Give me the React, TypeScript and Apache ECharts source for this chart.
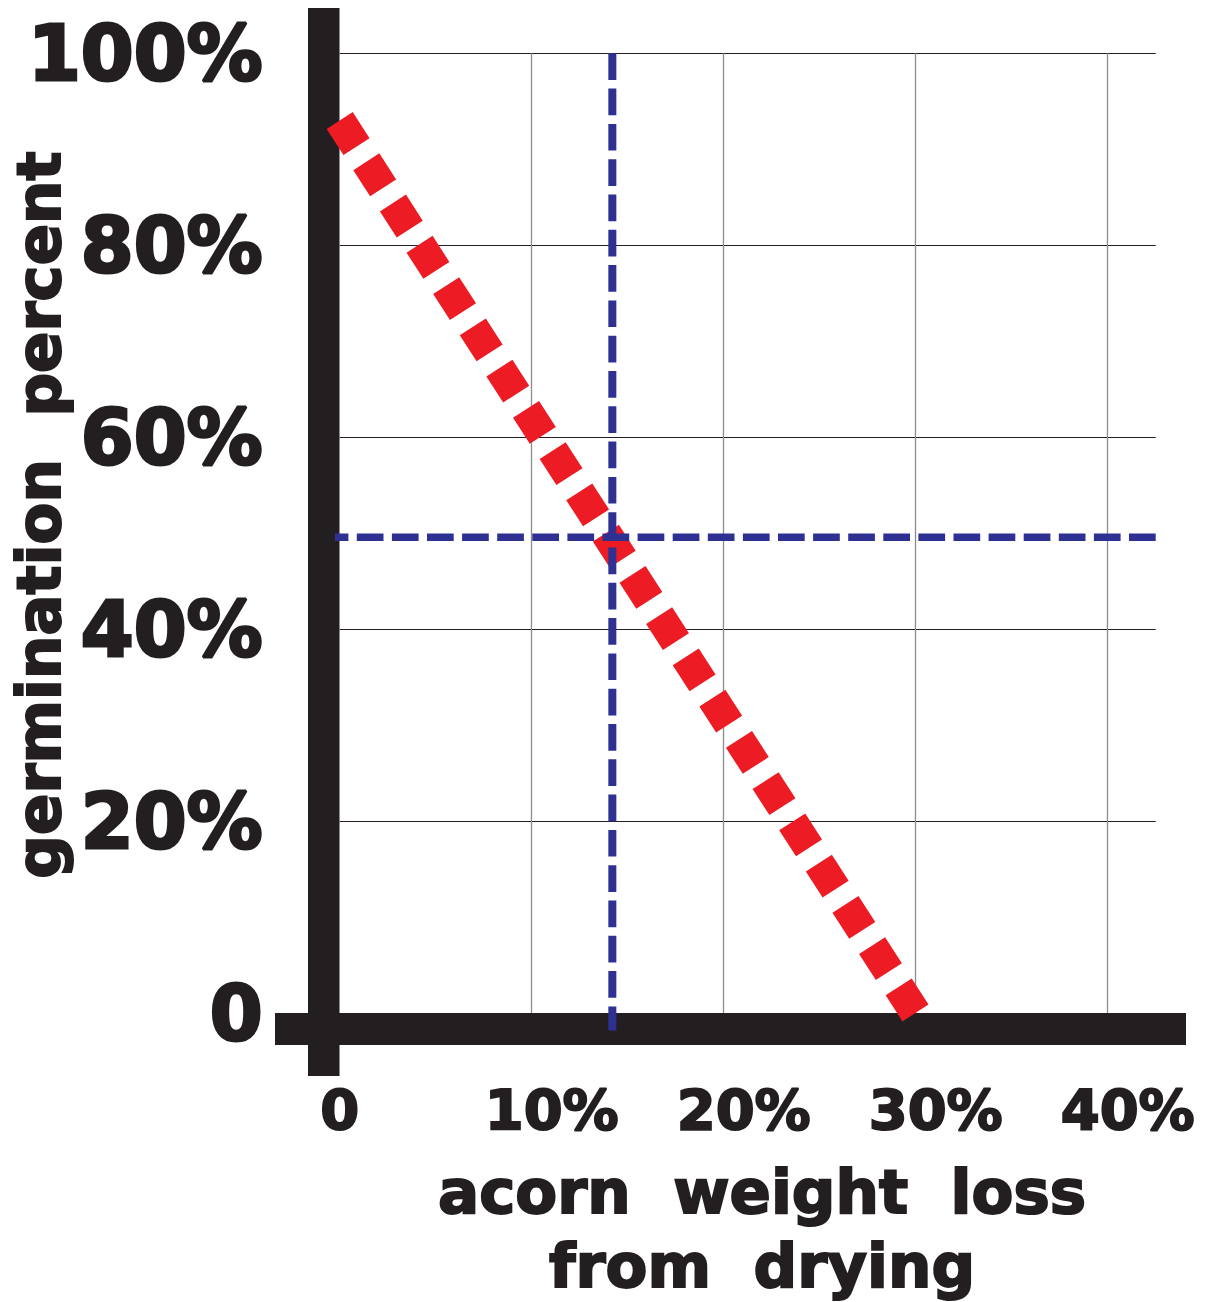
import React, { useEffect, useRef } from "react";
import * as echarts from "echarts";

// ---- data ----
const xTickValues = [0, 10, 20, 30, 40];
const yTickValues = [0, 20, 40, 60, 80, 100];
const germinationLine: [number, number][] = [
  [0, 93],
  [30, 0],
];
const weightLossGuide: [number, number][] = [
  [14.2, 100],
  [14.2, -1.8],
];
const halfGerminationGuide: [number, number][] = [
  [42.5, 49.6],
  [-0.92, 49.6],
];
const xTitleLines = ["acorn  weight  loss", "from  drying"];
const yTitle = "germination  percent";

const INK = "#231f20";
const RED = "#ed1c24";
const BLUE = "#2e3192";
const FAMILY = '"DejaVu Sans", "Liberation Sans", sans-serif';

export default function App() {
  const ref = useRef<HTMLDivElement>(null);

  useEffect(() => {
    if (!ref.current) return;
    const chart = echarts.init(ref.current, undefined, { renderer: "svg" });

    const tickFont = {
      fontFamily: FAMILY,
      fontWeight: "bold" as const,
      fontSize: 56,
      color: INK,
      textBorderColor: INK,
      textBorderWidth: 2,
    };
    const titleStyle = {
      fontFamily: FAMILY,
      fontWeight: "bold",
      fontSize: 61,
      fill: INK,
      stroke: INK,
      lineWidth: 2,
      align: "center",
      verticalAlign: "middle",
    };

    chart.setOption({
      animation: false,
      backgroundColor: "#ffffff",
      grid: { left: 339.7, top: 53.3, width: 816, height: 960, containLabel: false },
      xAxis: {
        type: "value",
        min: 0,
        max: 42.5,
        interval: 10,
        axisLine: { show: false },
        axisTick: { show: false },
        splitLine: {
          show: true,
          showMinLine: false,
          showMaxLine: false,
          lineStyle: { color: "#8c8c8c", width: 1.3 },
        },
        axisLabel: {
          margin: 68,
          showMaxLabel: false,
          formatter: (v: number) =>
            xTickValues.includes(v) ? (v === 0 ? "{z|0}" : `{p|${v}%}`) : "",
          rich: {
            z: { ...tickFont },
            p: { ...tickFont, padding: [0, 0, 0, 40] },
          },
        },
      },
      yAxis: {
        type: "value",
        min: 0,
        max: 100,
        interval: 20,
        axisLine: { show: false },
        axisTick: { show: false },
        splitLine: {
          show: true,
          showMinLine: false,
          lineStyle: { color: INK, width: 1 },
        },
        axisLabel: {
          margin: 77,
          fontFamily: FAMILY,
          fontWeight: "bold",
          fontSize: 76,
          color: INK,
          textBorderColor: INK,
          textBorderWidth: 3,
          formatter: (v: number) =>
            yTickValues.includes(v) ? (v === 0 ? "0" : `${v}%`) : "",
        },
      },
      graphic: [
        {
          type: "rect",
          z: 1,
          shape: { x: 308, y: 8, width: 31.5, height: 1068 },
          style: { fill: INK },
          silent: true,
        },
        {
          type: "rect",
          z: 1,
          shape: { x: 275, y: 1013, width: 911, height: 32 },
          style: { fill: INK },
          silent: true,
        },
        {
          type: "text",
          x: 762,
          y: 1191,
          style: { ...titleStyle, text: xTitleLines[0] },
        },
        {
          type: "text",
          x: 762,
          y: 1265,
          style: { ...titleStyle, text: xTitleLines[1] },
        },
        {
          type: "text",
          x: 38.5,
          y: 515,
          rotation: Math.PI / 2,
          style: { ...titleStyle, text: yTitle },
        },
      ],
      series: [
        {
          type: "line",
          data: germinationLine,
          z: 3,
          clip: false,
          symbol: "none",
          silent: true,
          lineStyle: { color: RED, width: 31, type: [31, 18.1], cap: "butt" },
        },
        {
          type: "line",
          data: weightLossGuide,
          z: 4,
          clip: false,
          symbol: "none",
          silent: true,
          lineStyle: { color: BLUE, width: 8, type: [26.7, 8.6], cap: "butt" },
        },
        {
          type: "line",
          data: halfGerminationGuide,
          z: 4,
          clip: false,
          symbol: "none",
          silent: true,
          lineStyle: { color: BLUE, width: 7.5, type: [26.7, 8.4], cap: "butt" },
        },
      ],
    });

    return () => chart.dispose();
  }, []);

  return (
    <div
      ref={ref}
      style={{ position: "absolute", left: 0, top: 0, width: 1210, height: 1302 }}
    />
  );
}
